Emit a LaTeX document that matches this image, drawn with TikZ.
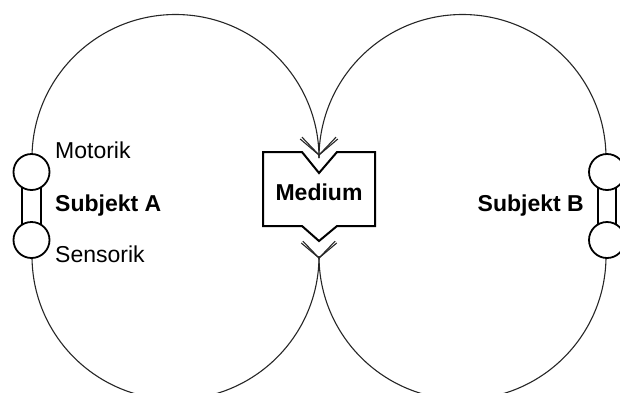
\documentclass[tikz,border=0pt]{standalone}
\usepackage{fontspec}
\setmainfont{Liberation Sans}
\begin{document}
\begin{tikzpicture}[x=1pt,y=-1pt,
  loop/.style={line width=1.1pt,draw=black!85},
  vee/.style={line width=1.1pt,draw=black!85},
  boxline/.style={line width=2pt,draw=black,fill=white,line join=miter},
  organ/.style={circle,draw=black,line width=1.8pt,fill=white,minimum size=36pt,inner sep=0pt},
  bar/.style={draw=black,line width=1.8pt,fill=white},
  lbl/.style={font=\fontsize{23}{23}\selectfont,inner sep=0pt},
  blbl/.style={font=\fontsize{23}{23}\selectfont\bfseries,inner sep=0pt}]
\useasboundingbox (0,0) rectangle (620,392);

% end points of the two loops
\coordinate (tA) at (32,158);
\coordinate (bA) at (32,256);
\coordinate (tB) at (606,158);
\coordinate (bB) at (606,256);
\coordinate (inM) at (319,158);
\coordinate (outM) at (319,256);
\coordinate (tipT) at (319,155);
\coordinate (tipB) at (319,258);

% loops of subject A and subject B
\draw[loop] (tA) arc[start angle=180,end angle=0,radius=143.5pt];
\draw[loop] (tB) arc[start angle=0,end angle=180,radius=143.5pt];
\draw[loop] (outM) arc[start angle=0,end angle=-180,radius=143.5pt];
\draw[loop] (outM) arc[start angle=180,end angle=360,radius=143.5pt];

% open arrowheads at the medium
\foreach \a in {-3,3}{
  \draw[vee,rotate around={\a:(tipT)}] (tipT) ++(-18,-17) -- (tipT) -- ++(18,-17);
  \draw[vee,rotate around={\a:(tipB)}] (tipB) ++(-17,-16) -- (tipB) -- ++(17,-16);
}

% medium
\draw[boxline] (263,152) -- (302,152) -- (319,173) -- (337,152) -- (375,152)
  -- (375,226) -- (337,226) -- (319,241) -- (302,226) -- (263,226) -- cycle;
\node[blbl,anchor=base] (medium) at (319,200) {Medium};

% subject A: motor and sensor organs
\draw[bar] (22,186) rectangle (41,226);
\node[organ] (motA) at (31.5,172) {};
\node[organ] (sensA) at (31.5,240) {};
\node[lbl,anchor=base west] (motorik) at (55,158) {Motorik};
\node[blbl,anchor=base west] (subjA) at (55,211) {Subjekt A};
\node[lbl,anchor=base west] (sensorik) at (55,262) {Sensorik};

% subject B: motor and sensor organs
\draw[bar] (598,186) rectangle (616,226);
\node[organ] (motB) at (607,172) {};
\node[organ] (sensB) at (607,240) {};
\node[blbl,anchor=base east] (subjB) at (584,211) {Subjekt B};
\end{tikzpicture}
\end{document}
